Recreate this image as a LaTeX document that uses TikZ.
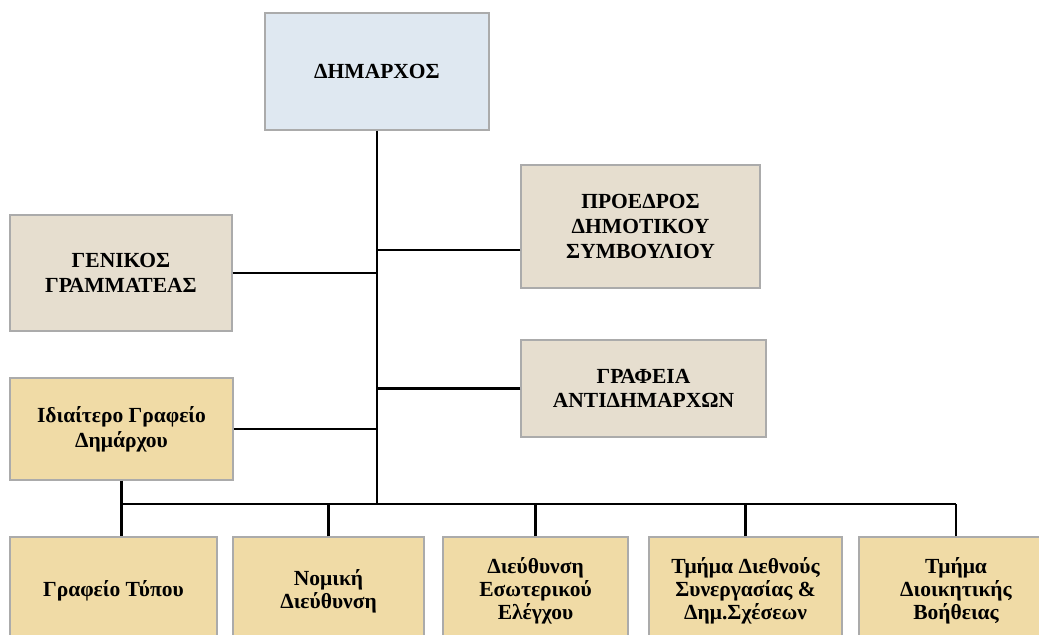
\documentclass[tikz,border=0pt]{standalone}
\usepackage{fontspec}
\setmainfont{Liberation Serif}
\usetikzlibrary{calc}
\definecolor{skyfill}{HTML}{DFE8F1}
\definecolor{linenfill}{HTML}{E6DECF}
\definecolor{papfill}{HTML}{F0DBA6}
\definecolor{boxedge}{HTML}{ABABAB}

\begin{document}
\begin{tikzpicture}[x=0.025cm, y=-0.025cm,
    box/.style={draw=boxedge, line width=0.8pt, align=center, inner sep=2pt,
      font=\bfseries\fontsize{15.3}{17.5}\selectfont},
    bluebox/.style={box, fill=skyfill},
    linenbox/.style={box, fill=linenfill},
    papbox/.style={box, fill=papfill},
    lowbox/.style={papbox, font=\bfseries\fontsize{15.3}{16.2}\selectfont},
    link/.style={line width=1.8pt, line join=round}]
    \clip (0,0) rectangle (1039,635);
    % top of the chart
    \node[bluebox, minimum width=5.6cm, minimum height=2.925cm] (mayor) at (377,71.5) {ΔΗΜΑΡΧΟΣ};
    \node[linenbox, minimum width=5.55cm, minimum height=2.9cm] (gen) at (121,273) {ΓΕΝΙΚΟΣ\\ΓΡΑΜΜΑΤΕΑΣ};
    \node[linenbox, minimum width=5.975cm, minimum height=3.075cm] (pro) at (640.5,226.5) {ΠΡΟΕΔΡΟΣ\\ΔΗΜΟΤΙΚΟΥ\\ΣΥΜΒΟΥΛΙΟΥ};
    \node[linenbox, minimum width=6.125cm, minimum height=2.425cm] (graf) at (643.5,388.5) {ΓΡΑΦΕΙΑ\\ΑΝΤΙΔΗΜΑΡΧΩΝ};
    \node[papbox, minimum width=5.575cm, minimum height=2.55cm] (ida) at (121.5,429) {Ιδιαίτερο Γραφείο\\Δημάρχου};

    % bottom row
    \node[lowbox, minimum width=5.175cm, minimum height=2.7cm] (b1) at (113.5,591) {Γραφείο Τύπου};
    \node[lowbox, minimum width=4.775cm, minimum height=2.7cm] (b2) at (328.5,591) {Νομική\\Διεύθυνση};
    \node[lowbox, minimum width=4.625cm, minimum height=2.7cm] (b3) at (535.5,591) {Διεύθυνση\\Εσωτερικού\\Ελέγχου};
    \node[lowbox, minimum width=4.825cm, minimum height=2.7cm] (b4) at (745.5,591) {Τμήμα Διεθνούς\\Συνεργασίας \&\\Δημ.Σχέσεων};
    \node[lowbox, minimum width=4.85cm, minimum height=2.7cm] (b5) at (956,591) {Τμήμα\\Διοικητικής\\Βοήθειας};

    % connectors
    \coordinate (bus) at (377,504);
    \coordinate (proin) at ($(pro.west)+(0,23.5)$);
    \draw[link] (mayor.south) -- (bus);
    \draw[link] (gen.east) -- (gen.east -| mayor.south);
    \draw[link] (proin) -- (proin -| mayor.south);
    \draw[link] (graf.west) -- (graf.west -| mayor.south);
    \draw[link] (ida.east) -- (ida.east -| mayor.south);
    \draw[link] (ida.south) -- (ida.south |- b1.north);
    \draw[link] (ida.south |- bus) -- (b5.north |- bus);
    \foreach \b in {b2,b3,b4,b5}
        \draw[link] (\b.north) -- (\b.north |- bus);
\end{tikzpicture}
\end{document}
